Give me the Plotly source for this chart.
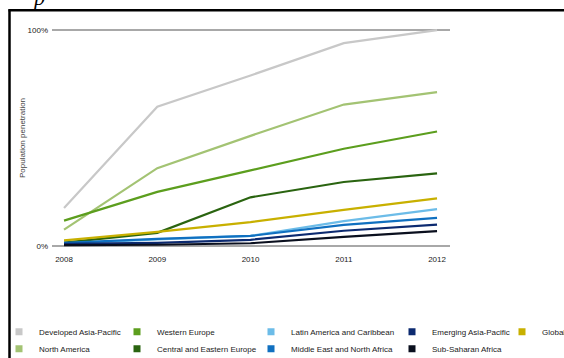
import plotly.graph_objects as go

years = [2008, 2009, 2010, 2011, 2012]
series_names = [
    "Developed Asia-Pacific", "North America",
    "Western Europe", "Central and Eastern Europe",
    "Latin America and Caribbean", "Middle East and North Africa",
    "Emerging Asia-Pacific", "Sub-Saharan Africa",
    "Global",
]
developed_asia_pacific = [17.5, 64.5, 79, 94, 100]
north_america = [7.5, 36, 51, 65.5, 71.3]
western_europe = [11.7, 25, 35, 45, 53]
central_eastern_europe = [1.5, 6, 22.5, 29.6, 33.6]
latin_america = [1.0, 3.0, 4.6, 11.5, 17]
middle_east_na = [1.4, 3.2, 4.6, 9.7, 13]
emerging_asia_pacific = [0.9, 1.4, 2.8, 7, 9.8]
sub_saharan_africa = [0.3, 0.5, 1.2, 4.2, 6.8]
global_avg = [2.5, 6.5, 11, 16.7, 22]

values = [developed_asia_pacific, north_america, western_europe, central_eastern_europe,
          latin_america, middle_east_na, emerging_asia_pacific, sub_saharan_africa, global_avg]
colors = ["#c8c8c8", "#a3c373", "#5c9e1e", "#2a6410", "#6cbce8", "#1070c0",
          "#0c2a70", "#0a0f1e", "#c8b000"]

y_tickvals = [0, 100]
y_ticktext = ["0%", "100%"]

W, H = 564, 358
L, R_EDGE = 52, 450
T_PX, B_PX = 27.84, 248.16
plot_w = R_EDGE - L
plot_h = B_PX - T_PX

def px_x(p):
    return (p - L) / plot_w

def px_y(p):
    return (B_PX - p) / plot_h

fig = go.Figure()

# draw order: top lines first, dark bottom lines last
order = [0, 1, 2, 3, 8, 4, 5, 6, 7]
for i in order:
    fig.add_trace(go.Scatter(
        x=years, y=values[i], mode="lines", name=series_names[i],
        line=dict(color=colors[i], width=2.2), showlegend=False,
        hoverinfo="skip"))

# legend columns (square symbol centre px) and rows (centre px)
col_px = [19, 137, 271, 412, 522]
row_px = [332, 349]
legend_layouts = {}
for i, name in enumerate(series_names):
    col, row = divmod(i, 2)
    lid = "legend" if i == 0 else f"legend{i + 1}"
    fig.add_trace(go.Scatter(
        x=[None], y=[None], mode="markers", name=name,
        marker=dict(symbol="square", size=7, color=colors[i],
                    line=dict(width=0)),
        legend=lid, showlegend=True))
    legend_layouts[lid] = dict(
        x=px_x(col_px[col] - 20), y=px_y(row_px[row]),
        xanchor="left", yanchor="middle", orientation="v",
        bgcolor="rgba(0,0,0,0)", borderwidth=0,
        font=dict(family="Liberation Sans, Arial, sans-serif", size=8, color="#1a1a1a"),
        itemclick=False, itemdoubleclick=False)

fig.update_layout(**legend_layouts)

fig.update_layout(
    width=W, height=H,
    margin=dict(l=L, r=W - R_EDGE, t=T_PX, b=H - B_PX, autoexpand=False),
    paper_bgcolor="white", plot_bgcolor="white",
    font=dict(family="Liberation Sans, Arial, sans-serif", size=8, color="#1a1a1a"),
    xaxis=dict(
        range=[2007.871, 2012.139], tickmode="array", tickvals=years,
        ticktext=[str(y) for y in years], showgrid=False, zeroline=False,
        showline=False, ticks="", ticklabelstandoff=5,
        tickfont=dict(size=8, color="#1a1a1a")),
    yaxis=dict(
        range=[-1, 101], tickmode="array", tickvals=y_tickvals, ticktext=y_ticktext,
        showgrid=True, gridcolor="#a8a8a8", gridwidth=2, zeroline=False,
        showline=False, ticks="", ticklabelstandoff=3,
        tickfont=dict(size=8, color="#1a1a1a")),
    annotations=[
        dict(text="Population penetration", textangle=-90, x=px_x(22), y=px_y(138),
             xref="paper", yref="paper", showarrow=False,
             font=dict(size=8, color="#444444"), xanchor="center", yanchor="middle"),
        dict(text="<i>p</i>", x=px_x(38), y=px_y(12), xref="paper", yref="paper",
             showarrow=False, xanchor="center", yanchor="bottom",
             font=dict(family="Liberation Serif, serif", size=22, color="#000000")),
    ],
    shapes=[
        dict(type="line", xref="paper", yref="paper",
             x0=px_x(9.5), x1=px_x(9.5), y0=px_y(9), y1=px_y(370),
             line=dict(color="#000000", width=2.5)),
        dict(type="line", xref="paper", yref="paper",
             x0=px_x(8.5), x1=px_x(580), y0=px_y(10), y1=px_y(10),
             line=dict(color="#000000", width=2.5)),
    ],
)

fig.write_html("out.html")
